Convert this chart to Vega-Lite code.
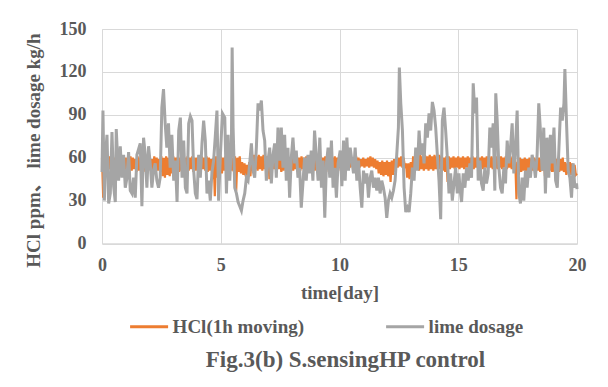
{
"$schema": "https://vega.github.io/schema/vega-lite/v6.json",
"autosize": {"type": "none"},
"width": 475, "height": 214.5,
"padding": {"left": 102, "top": 29, "right": 31, "bottom": 143.5},
"background": "white",
"config": {"view": {"stroke": null}, "font": "Liberation Serif"},
"title": {"text": "Fig.3(b) S.sensingHP control", "orient": "bottom", "anchor": "middle", "font": "Liberation Serif", "fontSize": 23, "fontWeight": "bold", "color": "#595959", "offset": 12, "dx": 6},
"datasets": {
"hcl": [
{"t":0,"v":60},{"t":0.05,"v":32},
{"t":0.1,"v":59},{"t":0.15,"v":51},{"t":0.2,"v":60},{"t":0.25,"v":50},{"t":0.3,"v":61},{"t":0.35,"v":52},{"t":0.4,"v":59},{"t":0.45,"v":51},{"t":0.5,"v":60},{"t":0.55,"v":50},{"t":0.6,"v":61},{"t":0.65,"v":51},{"t":0.7,"v":60},{"t":0.75,"v":52},{"t":0.8,"v":59},{"t":0.85,"v":50},{"t":0.9,"v":61},{"t":0.95,"v":51},
{"t":1.0,"v":60},{"t":1.05,"v":52},{"t":1.1,"v":59},{"t":1.15,"v":50},{"t":1.2,"v":61},{"t":1.25,"v":51},{"t":1.3,"v":60},{"t":1.35,"v":52},{"t":1.4,"v":59},{"t":1.45,"v":50},{"t":1.5,"v":61},{"t":1.55,"v":51},{"t":1.6,"v":60},{"t":1.65,"v":52},{"t":1.7,"v":59},{"t":1.75,"v":50},{"t":1.8,"v":61},{"t":1.85,"v":51},{"t":1.9,"v":60},{"t":1.95,"v":52},
{"t":2.0,"v":60},{"t":2.05,"v":51},{"t":2.1,"v":59},{"t":2.15,"v":50},{"t":2.2,"v":61},{"t":2.25,"v":52},{"t":2.3,"v":60},{"t":2.35,"v":51},{"t":2.4,"v":59},{"t":2.45,"v":50},{"t":2.5,"v":61},{"t":2.55,"v":47},{"t":2.6,"v":60},{"t":2.65,"v":46},{"t":2.7,"v":61},{"t":2.75,"v":48},{"t":2.8,"v":60},{"t":2.85,"v":47},{"t":2.9,"v":61},{"t":2.95,"v":49},
{"t":3.0,"v":61},{"t":3.05,"v":51},{"t":3.1,"v":60},{"t":3.15,"v":52},{"t":3.2,"v":61},{"t":3.25,"v":50},{"t":3.3,"v":60},{"t":3.35,"v":51},{"t":3.4,"v":61},{"t":3.45,"v":52},{"t":3.5,"v":60},{"t":3.55,"v":50},{"t":3.6,"v":61},{"t":3.65,"v":51},{"t":3.7,"v":60},{"t":3.75,"v":52},{"t":3.8,"v":61},{"t":3.85,"v":50},{"t":3.9,"v":60},{"t":3.95,"v":51},
{"t":4.0,"v":60},{"t":4.05,"v":51},{"t":4.1,"v":59},{"t":4.15,"v":50},{"t":4.2,"v":61},{"t":4.25,"v":52},{"t":4.3,"v":60},{"t":4.35,"v":51},{"t":4.4,"v":61},{"t":4.45,"v":50},{"t":4.5,"v":60},{"t":4.55,"v":51},{"t":4.6,"v":59},{"t":4.65,"v":45},{"t":4.7,"v":60},{"t":4.75,"v":33},{"t":4.8,"v":61},{"t":4.85,"v":46},{"t":4.9,"v":60},{"t":4.95,"v":50},
{"t":5.0,"v":61},{"t":5.05,"v":49},{"t":5.1,"v":60},{"t":5.15,"v":51},{"t":5.2,"v":61},{"t":5.25,"v":50},{"t":5.3,"v":60},{"t":5.35,"v":52},{"t":5.4,"v":61},{"t":5.45,"v":51},{"t":5.5,"v":60},{"t":5.55,"v":50},{"t":5.6,"v":61},{"t":5.65,"v":37},{"t":5.7,"v":60},{"t":5.75,"v":50},{"t":5.8,"v":61},{"t":5.85,"v":49},{"t":5.9,"v":57},{"t":5.95,"v":48},
{"t":6.0,"v":56},{"t":6.05,"v":47},{"t":6.1,"v":55},{"t":6.15,"v":48},{"t":6.2,"v":57},{"t":6.25,"v":47},{"t":6.3,"v":60},{"t":6.35,"v":51},{"t":6.4,"v":62},{"t":6.45,"v":52},{"t":6.5,"v":61},{"t":6.55,"v":51},{"t":6.6,"v":62},{"t":6.65,"v":52},{"t":6.7,"v":61},{"t":6.75,"v":51},{"t":6.8,"v":62},{"t":6.85,"v":52},{"t":6.9,"v":61},{"t":6.95,"v":51},
{"t":7.0,"v":61},{"t":7.05,"v":45},{"t":7.1,"v":60},{"t":7.15,"v":51},{"t":7.2,"v":61},{"t":7.25,"v":52},{"t":7.3,"v":60},{"t":7.35,"v":51},{"t":7.4,"v":61},{"t":7.45,"v":52},{"t":7.5,"v":60},{"t":7.55,"v":50},{"t":7.6,"v":61},{"t":7.65,"v":51},{"t":7.7,"v":60},{"t":7.75,"v":52},{"t":7.8,"v":61},{"t":7.85,"v":50},{"t":7.9,"v":60},{"t":7.95,"v":51},
{"t":8.0,"v":61},{"t":8.05,"v":51},{"t":8.1,"v":60},{"t":8.15,"v":52},{"t":8.2,"v":61},{"t":8.25,"v":50},{"t":8.3,"v":60},{"t":8.35,"v":51},{"t":8.4,"v":61},{"t":8.45,"v":52},{"t":8.5,"v":60},{"t":8.55,"v":50},{"t":8.6,"v":61},{"t":8.65,"v":51},{"t":8.7,"v":60},{"t":8.75,"v":52},{"t":8.8,"v":61},{"t":8.85,"v":50},{"t":8.9,"v":60},{"t":8.95,"v":51},
{"t":9.0,"v":61},{"t":9.05,"v":51},{"t":9.1,"v":60},{"t":9.15,"v":52},{"t":9.2,"v":61},{"t":9.25,"v":50},{"t":9.3,"v":60},{"t":9.35,"v":51},{"t":9.4,"v":61},{"t":9.45,"v":52},{"t":9.5,"v":60},{"t":9.55,"v":50},{"t":9.6,"v":61},{"t":9.65,"v":51},{"t":9.7,"v":60},{"t":9.75,"v":52},{"t":9.8,"v":61},{"t":9.85,"v":50},{"t":9.9,"v":60},{"t":9.95,"v":51},
{"t":10.0,"v":60},{"t":10.05,"v":53},{"t":10.1,"v":59},{"t":10.15,"v":54},{"t":10.2,"v":60},{"t":10.25,"v":53},{"t":10.3,"v":61},{"t":10.35,"v":54},{"t":10.4,"v":60},{"t":10.45,"v":53},{"t":10.5,"v":59},{"t":10.55,"v":54},{"t":10.6,"v":60},{"t":10.65,"v":53},{"t":10.7,"v":61},{"t":10.75,"v":54},{"t":10.8,"v":60},{"t":10.85,"v":53},{"t":10.9,"v":59},{"t":10.95,"v":54},
{"t":11.0,"v":60},{"t":11.05,"v":53},{"t":11.1,"v":59},{"t":11.15,"v":54},{"t":11.2,"v":60},{"t":11.25,"v":53},{"t":11.3,"v":61},{"t":11.35,"v":54},{"t":11.4,"v":60},{"t":11.45,"v":53},{"t":11.5,"v":59},{"t":11.55,"v":52},{"t":11.6,"v":58},{"t":11.65,"v":49},{"t":11.7,"v":57},{"t":11.75,"v":48},{"t":11.8,"v":58},{"t":11.85,"v":47},{"t":11.9,"v":57},{"t":11.95,"v":48},
{"t":12.0,"v":58},{"t":12.05,"v":47},{"t":12.1,"v":57},{"t":12.15,"v":43},{"t":12.2,"v":58},{"t":12.25,"v":48},{"t":12.3,"v":59},{"t":12.35,"v":50},{"t":12.4,"v":60},{"t":12.45,"v":53},{"t":12.5,"v":60},{"t":12.55,"v":54},{"t":12.6,"v":61},{"t":12.65,"v":53},{"t":12.7,"v":60},{"t":12.75,"v":54},{"t":12.8,"v":56},{"t":12.85,"v":46},{"t":12.9,"v":56},{"t":12.95,"v":45},
{"t":13.0,"v":57},{"t":13.05,"v":46},{"t":13.1,"v":61},{"t":13.15,"v":51},{"t":13.2,"v":62},{"t":13.25,"v":52},{"t":13.3,"v":61},{"t":13.35,"v":51},{"t":13.4,"v":62},{"t":13.45,"v":52},{"t":13.5,"v":61},{"t":13.55,"v":51},{"t":13.6,"v":62},{"t":13.65,"v":52},{"t":13.7,"v":61},{"t":13.75,"v":51},{"t":13.8,"v":62},{"t":13.85,"v":52},{"t":13.9,"v":61},{"t":13.95,"v":51},
{"t":14.0,"v":62},{"t":14.05,"v":52},{"t":14.1,"v":61},{"t":14.15,"v":51},{"t":14.2,"v":62},{"t":14.25,"v":52},{"t":14.3,"v":61},{"t":14.35,"v":51},{"t":14.4,"v":60},{"t":14.45,"v":50},{"t":14.5,"v":61},{"t":14.55,"v":43},{"t":14.6,"v":61},{"t":14.65,"v":52},{"t":14.7,"v":60},{"t":14.75,"v":53},{"t":14.8,"v":61},{"t":14.85,"v":52},{"t":14.9,"v":60},{"t":14.95,"v":53},
{"t":15.0,"v":61},{"t":15.05,"v":52},{"t":15.1,"v":60},{"t":15.15,"v":53},{"t":15.2,"v":61},{"t":15.25,"v":52},{"t":15.3,"v":60},{"t":15.35,"v":53},{"t":15.4,"v":61},{"t":15.45,"v":52},{"t":15.5,"v":60},{"t":15.55,"v":53},{"t":15.6,"v":61},{"t":15.65,"v":52},{"t":15.7,"v":60},{"t":15.75,"v":53},{"t":15.8,"v":61},{"t":15.85,"v":52},{"t":15.9,"v":60},{"t":15.95,"v":53},
{"t":16.0,"v":61},{"t":16.05,"v":52},{"t":16.1,"v":60},{"t":16.15,"v":53},{"t":16.2,"v":61},{"t":16.25,"v":52},{"t":16.3,"v":60},{"t":16.35,"v":53},{"t":16.4,"v":61},{"t":16.45,"v":52},{"t":16.5,"v":60},{"t":16.55,"v":53},{"t":16.6,"v":61},{"t":16.65,"v":52},{"t":16.7,"v":60},{"t":16.75,"v":53},{"t":16.8,"v":61},{"t":16.85,"v":52},{"t":16.9,"v":60},{"t":16.95,"v":53},
{"t":17.0,"v":61},{"t":17.05,"v":52},{"t":17.1,"v":60},{"t":17.15,"v":53},{"t":17.2,"v":61},{"t":17.25,"v":52},{"t":17.3,"v":60},{"t":17.35,"v":52},{"t":17.4,"v":58},{"t":17.45,"v":31},{"t":17.5,"v":57},{"t":17.55,"v":48},{"t":17.6,"v":60},{"t":17.65,"v":50},{"t":17.7,"v":59},{"t":17.75,"v":51},{"t":17.8,"v":60},{"t":17.85,"v":50},{"t":17.9,"v":59},{"t":17.95,"v":51},
{"t":18.0,"v":60},{"t":18.05,"v":50},{"t":18.1,"v":59},{"t":18.15,"v":51},{"t":18.2,"v":60},{"t":18.25,"v":50},{"t":18.3,"v":59},{"t":18.35,"v":51},{"t":18.4,"v":60},{"t":18.45,"v":50},{"t":18.5,"v":59},{"t":18.55,"v":51},{"t":18.6,"v":60},{"t":18.65,"v":47},{"t":18.7,"v":59},{"t":18.75,"v":50},{"t":18.8,"v":60},{"t":18.85,"v":51},{"t":18.9,"v":59},{"t":18.95,"v":50},
{"t":19.0,"v":60},{"t":19.05,"v":50},{"t":19.1,"v":59},{"t":19.15,"v":51},{"t":19.2,"v":60},{"t":19.25,"v":50},{"t":19.3,"v":59},{"t":19.35,"v":51},{"t":19.4,"v":60},{"t":19.45,"v":50},{"t":19.5,"v":57},{"t":19.55,"v":48},{"t":19.6,"v":56},{"t":19.65,"v":49},{"t":19.7,"v":57},{"t":19.75,"v":48},{"t":19.8,"v":56},{"t":19.85,"v":49},{"t":19.9,"v":55},{"t":19.95,"v":48},{"t":20.0,"v":49}
],
"lime": [
{"t":0,"v":50},{"t":0.04,"v":93},{"t":0.1,"v":30},{"t":0.15,"v":62},{"t":0.21,"v":76},{"t":0.28,"v":28},{"t":0.35,"v":35},{"t":0.42,"v":78},{"t":0.49,"v":40},{"t":0.56,"v":29},
{"t":0.6,"v":80},{"t":0.7,"v":44},{"t":0.77,"v":68},{"t":0.84,"v":46},{"t":0.91,"v":62},{"t":0.98,"v":39},{"t":1.05,"v":46},{"t":1.12,"v":64},{"t":1.19,"v":37},{"t":1.26,"v":35},
{"t":1.33,"v":46},{"t":1.4,"v":32},{"t":1.47,"v":62},{"t":1.54,"v":66},{"t":1.61,"v":70},{"t":1.68,"v":26},{"t":1.75,"v":74},{"t":1.82,"v":62},{"t":1.89,"v":39},{"t":1.96,"v":68},
{"t":2.03,"v":56},{"t":2.1,"v":39},{"t":2.17,"v":51},{"t":2.24,"v":56},{"t":2.31,"v":44},{"t":2.38,"v":39},{"t":2.45,"v":46},{"t":2.52,"v":95},{"t":2.59,"v":108},{"t":2.66,"v":84},
{"t":2.73,"v":67},{"t":2.8,"v":84},{"t":2.87,"v":53},{"t":2.94,"v":76},{"t":3.02,"v":44},{"t":3.09,"v":58},{"t":3.16,"v":29},{"t":3.23,"v":79},{"t":3.3,"v":88},{"t":3.37,"v":46},
{"t":3.44,"v":72},{"t":3.51,"v":39},{"t":3.58,"v":35},{"t":3.65,"v":84},{"t":3.72,"v":89},{"t":3.79,"v":86},{"t":3.86,"v":51},{"t":3.93,"v":35},{"t":4.0,"v":31},{"t":4.07,"v":62},
{"t":4.14,"v":46},{"t":4.21,"v":70},{"t":4.28,"v":86},{"t":4.35,"v":72},{"t":4.42,"v":35},{"t":4.49,"v":44},{"t":4.56,"v":30},{"t":4.63,"v":50},{"t":4.7,"v":58},{"t":4.77,"v":75},
{"t":4.84,"v":93},{"t":4.91,"v":30},{"t":4.98,"v":60},{"t":5.07,"v":91},{"t":5.17,"v":88},{"t":5.24,"v":35},{"t":5.31,"v":76},{"t":5.38,"v":44},{"t":5.45,"v":70},{"t":5.48,"v":137},
{"t":5.52,"v":81},{"t":5.59,"v":39},{"t":5.66,"v":35},{"t":5.73,"v":29},{"t":5.8,"v":26},{"t":5.87,"v":23},{"t":5.94,"v":30},{"t":6.01,"v":35},{"t":6.08,"v":46},{"t":6.15,"v":44},
{"t":6.22,"v":56},{"t":6.29,"v":70},{"t":6.36,"v":51},{"t":6.43,"v":46},{"t":6.5,"v":67},{"t":6.57,"v":98},{"t":6.64,"v":93},{"t":6.71,"v":100},{"t":6.78,"v":79},{"t":6.85,"v":72},
{"t":6.92,"v":44},{"t":6.99,"v":58},{"t":7.06,"v":67},{"t":7.13,"v":42},{"t":7.2,"v":62},{"t":7.27,"v":70},{"t":7.34,"v":46},{"t":7.41,"v":81},{"t":7.48,"v":58},{"t":7.55,"v":81},
{"t":7.62,"v":53},{"t":7.69,"v":76},{"t":7.76,"v":44},{"t":7.83,"v":67},{"t":7.9,"v":32},{"t":7.97,"v":60},{"t":8.04,"v":74},{"t":8.11,"v":56},{"t":8.18,"v":65},{"t":8.25,"v":46},
{"t":8.32,"v":53},{"t":8.39,"v":25},{"t":8.46,"v":42},{"t":8.53,"v":60},{"t":8.6,"v":44},{"t":8.67,"v":62},{"t":8.74,"v":49},{"t":8.81,"v":65},{"t":8.88,"v":44},{"t":8.95,"v":79},
{"t":9.02,"v":62},{"t":9.1,"v":44},{"t":9.17,"v":74},{"t":9.24,"v":39},{"t":9.31,"v":58},{"t":9.38,"v":18},{"t":9.45,"v":56},{"t":9.52,"v":67},{"t":9.59,"v":46},{"t":9.66,"v":72},
{"t":9.73,"v":39},{"t":9.8,"v":53},{"t":9.87,"v":32},{"t":9.94,"v":56},{"t":10.03,"v":65},{"t":10.1,"v":40},{"t":10.17,"v":72},{"t":10.24,"v":44},{"t":10.31,"v":74},{"t":10.38,"v":51},
{"t":10.45,"v":67},{"t":10.52,"v":58},{"t":10.59,"v":49},{"t":10.66,"v":67},{"t":10.73,"v":44},{"t":10.8,"v":58},{"t":10.87,"v":39},{"t":10.94,"v":25},{"t":11.01,"v":51},{"t":11.08,"v":42},
{"t":11.15,"v":49},{"t":11.22,"v":32},{"t":11.29,"v":46},{"t":11.36,"v":51},{"t":11.43,"v":39},{"t":11.5,"v":46},{"t":11.57,"v":37},{"t":11.64,"v":46},{"t":11.71,"v":35},{"t":11.78,"v":44},
{"t":11.85,"v":39},{"t":11.92,"v":32},{"t":11.99,"v":18},{"t":12.06,"v":30},{"t":12.13,"v":35},{"t":12.2,"v":32},{"t":12.27,"v":37},{"t":12.34,"v":44},{"t":12.41,"v":62},{"t":12.48,"v":81},
{"t":12.52,"v":123},{"t":12.58,"v":98},{"t":12.65,"v":79},{"t":12.72,"v":39},{"t":12.79,"v":22},{"t":12.86,"v":25},{"t":12.93,"v":22},{"t":13.0,"v":35},{"t":13.07,"v":53},{"t":13.14,"v":44},
{"t":13.21,"v":67},{"t":13.28,"v":51},{"t":13.35,"v":79},{"t":13.42,"v":62},{"t":13.49,"v":70},{"t":13.56,"v":56},{"t":13.63,"v":84},{"t":13.7,"v":74},{"t":13.77,"v":91},{"t":13.84,"v":79},
{"t":13.91,"v":99},{"t":13.98,"v":93},{"t":14.05,"v":81},{"t":14.12,"v":62},{"t":14.19,"v":44},{"t":14.26,"v":17},{"t":14.33,"v":86},{"t":14.4,"v":95},{"t":14.47,"v":79},{"t":14.54,"v":60},
{"t":14.61,"v":35},{"t":14.68,"v":49},{"t":14.75,"v":30},{"t":14.82,"v":42},{"t":14.89,"v":53},{"t":14.96,"v":35},{"t":15.03,"v":49},{"t":15.07,"v":39},{"t":15.14,"v":29},{"t":15.21,"v":49},
{"t":15.28,"v":39},{"t":15.35,"v":53},{"t":15.42,"v":44},{"t":15.49,"v":56},{"t":15.56,"v":46},{"t":15.63,"v":112},{"t":15.7,"v":91},{"t":15.77,"v":102},{"t":15.84,"v":44},{"t":15.91,"v":58},
{"t":15.98,"v":42},{"t":16.05,"v":37},{"t":16.12,"v":53},{"t":16.19,"v":42},{"t":16.26,"v":49},{"t":16.33,"v":81},{"t":16.4,"v":67},{"t":16.47,"v":84},{"t":16.54,"v":37},{"t":16.58,"v":105},
{"t":16.64,"v":86},{"t":16.71,"v":53},{"t":16.78,"v":39},{"t":16.85,"v":35},{"t":16.92,"v":53},{"t":16.99,"v":42},{"t":17.06,"v":72},{"t":17.13,"v":56},{"t":17.2,"v":67},{"t":17.27,"v":84},
{"t":17.34,"v":49},{"t":17.41,"v":67},{"t":17.48,"v":93},{"t":17.55,"v":35},{"t":17.62,"v":28},{"t":17.69,"v":46},{"t":17.76,"v":30},{"t":17.83,"v":51},{"t":17.9,"v":39},{"t":17.97,"v":53},
{"t":18.04,"v":46},{"t":18.11,"v":62},{"t":18.18,"v":56},{"t":18.25,"v":46},{"t":18.32,"v":62},{"t":18.39,"v":98},{"t":18.46,"v":79},{"t":18.53,"v":51},{"t":18.6,"v":81},{"t":18.67,"v":35},
{"t":18.74,"v":74},{"t":18.81,"v":46},{"t":18.88,"v":76},{"t":18.95,"v":56},{"t":19.03,"v":81},{"t":19.1,"v":44},{"t":19.17,"v":39},{"t":19.24,"v":67},{"t":19.31,"v":95},{"t":19.38,"v":86},
{"t":19.45,"v":98},{"t":19.49,"v":122},{"t":19.56,"v":84},{"t":19.63,"v":51},{"t":19.7,"v":46},{"t":19.77,"v":32},{"t":19.84,"v":56},{"t":19.91,"v":39},{"t":19.98,"v":42},{"t":20.0,"v":38}
]
},
"encoding": {
"x": {"field": "t", "type": "quantitative", "scale": {"domain": [0, 20], "nice": false},
 "axis": {"values": [0, 5, 10, 15, 20], "title": "time[day]", "grid": true, "gridColor": "#d9d9d9", "gridWidth": 1, "ticks": false, "domain": true, "domainColor": "#d9d9d9", "domainWidth": 1.3,
  "labelFont": "Liberation Serif", "labelFontSize": 18, "labelFontWeight": "bold", "labelColor": "#595959", "labelPadding": 13, "labelFlush": false,
  "titleFont": "Liberation Serif", "titleFontSize": 19, "titleFontWeight": "bold", "titleColor": "#595959", "titleY": 55, "titleBaseline": "alphabetic"}},
"y": {"field": "v", "type": "quantitative", "scale": {"domain": [0, 150], "nice": false},
 "axis": {"values": [0, 30, 60, 90, 120, 150], "title": "HCl ppm、 lime dosage kg/h", "grid": true, "gridColor": "#d9d9d9", "gridWidth": 1, "ticks": false, "domain": true, "domainColor": "#d9d9d9",
  "labelFont": "Liberation Serif", "labelFontSize": 18, "labelFontWeight": "bold", "labelColor": "#595959", "labelPadding": 16,
  "titleFont": "Liberation Serif, Noto Sans CJK JP", "titleFontSize": 19, "titleFontWeight": "bold", "titleColor": "#595959", "titleAngle": -90, "titleX": -69, "titleY": 121, "titleBaseline": "middle", "titleAlign": "center"}}
},
"layer": [
{"data": {"name": "hcl"}, "mark": {"type": "line", "strokeWidth": 2.2},
 "encoding": {"color": {"datum": "HCl(1h moving)", "type": "nominal",
   "scale": {"domain": ["HCl(1h moving)", "lime dosage"], "range": ["#ed7d31", "#a5a5a5"]},
   "legend": {"orient": "none", "legendX": 26.6, "legendY": 277, "direction": "horizontal", "title": null, "padding": 0,
     "symbolType": "stroke", "symbolSize": 1444, "symbolStrokeWidth": 3, "labelOffset": 3, "columnPadding": 75,
     "labelFont": "Liberation Serif", "labelFontSize": 19, "labelFontWeight": "bold", "labelColor": "#595959", "labelLimit": 300}}}},
{"data": {"name": "lime"}, "mark": {"type": "line", "strokeWidth": 3},
 "encoding": {"color": {"datum": "lime dosage", "type": "nominal"}}}
]
}
